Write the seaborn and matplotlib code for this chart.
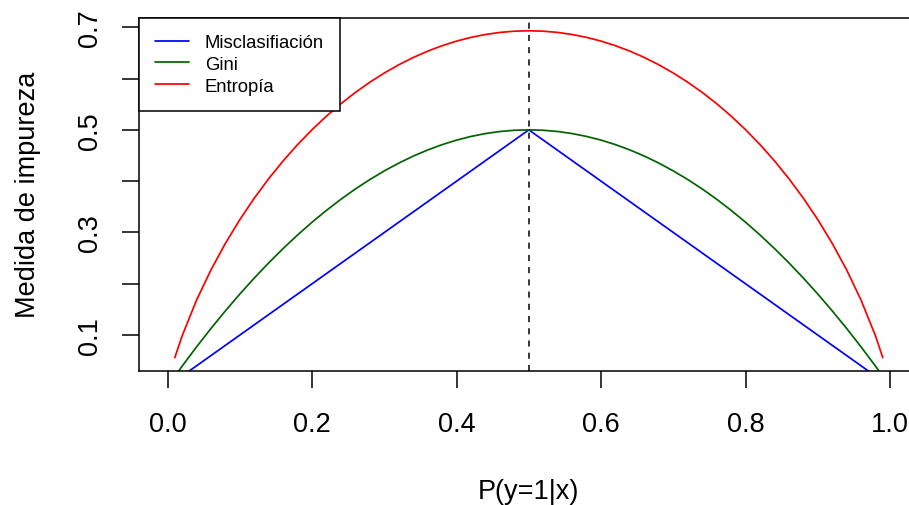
import matplotlib
matplotlib.use("Agg")
import matplotlib.pyplot as plt
import seaborn as sns
import pandas as pd

# Probability grid and impurity values for a binary node
p_misc = [0.0, 0.5, 1.0]
misclasificacion = [0.0, 0.5, 0.0]

p_gini = [0.00, 0.02, 0.04, 0.06, 0.08, 0.10, 0.12, 0.14, 0.16, 0.18, 0.20,
          0.22, 0.24, 0.26, 0.28, 0.30, 0.32, 0.34, 0.36, 0.38, 0.40, 0.42,
          0.44, 0.46, 0.48, 0.50, 0.52, 0.54, 0.56, 0.58, 0.60, 0.62, 0.64,
          0.66, 0.68, 0.70, 0.72, 0.74, 0.76, 0.78, 0.80, 0.82, 0.84, 0.86,
          0.88, 0.90, 0.92, 0.94, 0.96, 0.98, 1.00]
gini = [0.0000, 0.0392, 0.0768, 0.1128, 0.1472, 0.1800, 0.2112, 0.2408,
        0.2688, 0.2952, 0.3200, 0.3432, 0.3648, 0.3848, 0.4032, 0.4200,
        0.4352, 0.4488, 0.4608, 0.4712, 0.4800, 0.4872, 0.4928, 0.4968,
        0.4992, 0.5000, 0.4992, 0.4968, 0.4928, 0.4872, 0.4800, 0.4712,
        0.4608, 0.4488, 0.4352, 0.4200, 0.4032, 0.3848, 0.3648, 0.3432,
        0.3200, 0.2952, 0.2688, 0.2408, 0.2112, 0.1800, 0.1472, 0.1128,
        0.0768, 0.0392, 0.0000]

p_entropia = [0.01, 0.02, 0.04, 0.06, 0.08, 0.10, 0.12, 0.14, 0.16, 0.18,
              0.20, 0.22, 0.24, 0.26, 0.28, 0.30, 0.32, 0.34, 0.36, 0.38,
              0.40, 0.42, 0.44, 0.46, 0.48, 0.50, 0.52, 0.54, 0.56, 0.58,
              0.60, 0.62, 0.64, 0.66, 0.68, 0.70, 0.72, 0.74, 0.76, 0.78,
              0.80, 0.82, 0.84, 0.86, 0.88, 0.90, 0.92, 0.94, 0.96, 0.98, 0.99]
entropia = [0.05600, 0.09804, 0.16794, 0.22697, 0.27877, 0.32508, 0.36693,
            0.40496, 0.43967, 0.47139, 0.50040, 0.52691, 0.55108, 0.57306,
            0.59295, 0.61086, 0.62687, 0.64104, 0.65342, 0.66406, 0.67301,
            0.68029, 0.68593, 0.68994, 0.69235, 0.69315, 0.69235, 0.68994,
            0.68593, 0.68029, 0.67301, 0.66406, 0.65342, 0.64104, 0.62687,
            0.61086, 0.59295, 0.57306, 0.55108, 0.52691, 0.50040, 0.47139,
            0.43967, 0.40496, 0.36693, 0.32508, 0.27877, 0.22697, 0.16794,
            0.09804, 0.05600]

x_ticks = [0.0, 0.2, 0.4, 0.6, 0.8, 1.0]
x_ticklabels = ["0.0", "0.2", "0.4", "0.6", "0.8", "1.0"]
y_ticks = [0.1, 0.2, 0.3, 0.4, 0.5, 0.6, 0.7]
y_ticklabels = ["0.1", "", "0.3", "", "0.5", "", "0.7"]

sns.set_theme(style="ticks")
plt.rcParams["font.family"] = ["Liberation Sans", "DejaVu Sans"]
plt.rcParams["text.color"] = "black"

fig = plt.figure(figsize=(9.09, 5.06), dpi=100)
ax = fig.add_axes([0.1526, 0.2654, 0.8583, 0.6976])

df_misc = pd.DataFrame({"p": p_misc, "v": misclasificacion})
df_gini = pd.DataFrame({"p": p_gini, "v": gini})
df_ent = pd.DataFrame({"p": p_entropia, "v": entropia})

lw = 1.25
sns.lineplot(data=df_misc, x="p", y="v", ax=ax, color="#0000FF", lw=lw,
             label="Misclasifiación", sort=False)
sns.lineplot(data=df_gini, x="p", y="v", ax=ax, color="#006400", lw=lw,
             label="Gini", sort=False)
sns.lineplot(data=df_ent, x="p", y="v", ax=ax, color="#FF0000", lw=lw,
             label="Entropía", sort=False)

ax.axvline(0.5, color="black", lw=1.1, linestyle=(0, (4, 4)))

ax.set_xlim(-0.04, 1.04)
ax.set_ylim(0.0305, 0.7186)

ax.set_xticks(x_ticks)
ax.set_xticklabels(x_ticklabels)
ax.set_yticks(y_ticks)
ax.set_yticklabels(y_ticklabels, rotation=90, va="center")

ax.tick_params(axis="both", direction="out", length=12.2, width=1.1,
               color="black", labelsize=19.5, labelcolor="black")
ax.tick_params(axis="x", pad=16.5)
ax.tick_params(axis="y", pad=13.5)
for s in ax.spines.values():
    s.set_linewidth(1.1)
    s.set_color("black")

ax.set_xlabel("P(y=1|x)", fontsize=19.5, color="black", labelpad=30)
ax.set_ylabel("Medida de impureza", fontsize=19.5, color="black", labelpad=26)

leg = ax.legend(loc="upper left", bbox_to_anchor=(0, 1), borderaxespad=0,
                fontsize=13.3, frameon=True, fancybox=False, shadow=False,
                handlelength=1.85, handletextpad=0.85, borderpad=0.88,
                labelspacing=0.27)
leg.get_frame().set_edgecolor("black")
leg.get_frame().set_linewidth(1.1)
leg.get_frame().set_facecolor("white")
leg.get_frame().set_alpha(1)
for t in leg.get_texts():
    t.set_color("black")

fig.savefig("out.png", dpi=100, facecolor="white")
